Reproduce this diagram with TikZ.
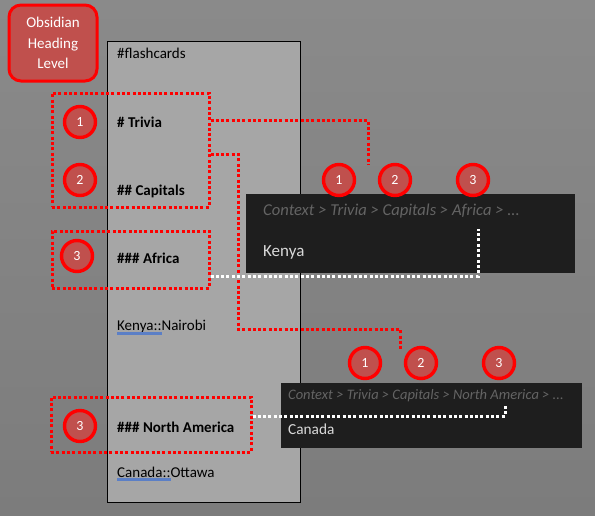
\documentclass[tikz,border=0pt]{standalone}
\usepackage{fontspec}
\setmainfont{Carlito}
\definecolor{bgA}{HTML}{8A8A8A}
\definecolor{bgB}{HTML}{7C7C7C}
\definecolor{panel}{HTML}{A6A6A6}
\definecolor{redfill}{HTML}{C0504D}
\definecolor{redline}{HTML}{FF0000}
\definecolor{darkbox}{HTML}{1E1E1E}
\definecolor{ctxgray}{HTML}{646464}
\definecolor{lighttxt}{HTML}{D9D9D9}
\definecolor{ulblue}{HTML}{5B7FC6}
\tikzset{
  numcirc/.style={circle, fill=redfill, draw=redline, line width=3.4pt, minimum size=31pt, inner sep=0pt, text=white, font=\fontsize{14}{16}\selectfont},
  dotbox/.style={draw=redline, line width=3pt, dash pattern=on 3pt off 2.3pt, inner sep=0pt},
  reddot/.style={draw=redline, line width=3pt, dash pattern=on 3pt off 2.3pt},
  whitedot/.style={draw=white, line width=3pt, dash pattern=on 3pt off 2.3pt},
  doctext/.style={anchor=base west, inner sep=0pt, font=\fontsize{15}{17}\selectfont},
  dochead/.style={doctext, font=\fontsize{15}{17}\selectfont\bfseries},
  darkpanel/.style={fill=darkbox, draw=none, inner sep=0pt},
}
\begin{document}
\begin{tikzpicture}[x=1pt,y=-1pt]
\useasboundingbox (0,0) rectangle (595,515);
\shade[top color=bgA, bottom color=bgB] (0,0) rectangle (595,515);
% heading label
\node[fill=redfill, draw=redline, line width=3pt, rounded corners=12pt, minimum width=88pt, minimum height=76pt, inner sep=0pt, text=white, align=center, font=\fontsize{15}{20.5}\selectfont] (hl) at (53,43) {Obsidian\\Heading\\Level};
% document panel
\node[fill=panel, draw=black, line width=0.8pt, minimum width=193pt, minimum height=461pt, inner sep=0pt] (doc) at (203.5,271.5) {};
\node[doctext] (t0) at (117,58) {\#flashcards};
\node[dochead] (t1) at (117,127) {\# Trivia};
\node[dochead] (t2) at (117,195) {\#\# Capitals};
\node[dochead] (t3) at (117,263) {\#\#\# Africa};
\node[doctext] (t4) at (117,330) {Kenya::Nairobi};
\node[dochead] (t5) at (117,432) {\#\#\# North America};
\node[doctext] (t6) at (117,477) {Canada::Ottawa};
\draw[ulblue, line width=2.2pt] (t4.base west |- 0,333.5) -- ++(45,0);
\draw[ulblue, line width=2.2pt] (t6.base west |- 0,479.5) -- ++(54,0);
% dark preview boxes
\node[darkpanel, minimum width=329pt, minimum height=79pt] (p1) at (410.5,233.5) {};
\node[anchor=base west, inner sep=0pt, text=ctxgray, font=\fontsize{16.6}{19}\selectfont\itshape] (c1) at (263,215) {Context > Trivia > Capitals > Africa > ...};
\node[anchor=base west, inner sep=0pt, text=lighttxt, font=\fontsize{17}{19}\selectfont] (k1) at (263,256) {Kenya};
\node[darkpanel, minimum width=301pt, minimum height=65pt] (p2) at (431.5,415.5) {};
\node[anchor=base west, inner sep=0pt, text=ctxgray, font=\fontsize{14.5}{16}\selectfont\itshape] (c2) at (288,399) {Context > Trivia > Capitals > North America > ...};
\node[anchor=base west, inner sep=0pt, text=lighttxt, font=\fontsize{15.3}{17}\selectfont] (k2) at (288,434) {Canada};
% dotted boxes
\node[dotbox, minimum width=157pt, minimum height=114pt] (b1) at (130.5,150) {};
\node[dotbox, minimum width=157pt, minimum height=57pt] (b2) at (130.5,259.5) {};
\node[dotbox, minimum width=200pt, minimum height=55pt] (b3) at (151,424.5) {};
% connector end points
\coordinate (e1) at (368,165);
\coordinate (e2) at (400,350);
\coordinate (w1) at (478,229);
\coordinate (w2) at (505,404);
\draw[reddot] (b1.east |- 0,120) -| (e1);
\draw[reddot] (b1.east |- 0,154) -| (238,329) -| (e2);
\draw[whitedot] (b2.east |- 0,276) -| (w1);
\draw[whitedot] (b3.east |- 0,416) -| (w2);
% number circles
\node[numcirc] (n1) at (80,122) {1};
\node[numcirc] (n2) at (80,180) {2};
\node[numcirc] (n3) at (77,256) {3};
\node[numcirc] (n4) at (80,426) {3};
\node[numcirc] (a1) at (339,180) {1};
\node[numcirc] (a2) at (395,180) {2};
\node[numcirc] (a3) at (473,180) {3};
\node[numcirc] (m1) at (365,363) {1};
\node[numcirc] (m2) at (421,363) {2};
\node[numcirc] (m3) at (499,363) {3};
\end{tikzpicture}
\end{document}
